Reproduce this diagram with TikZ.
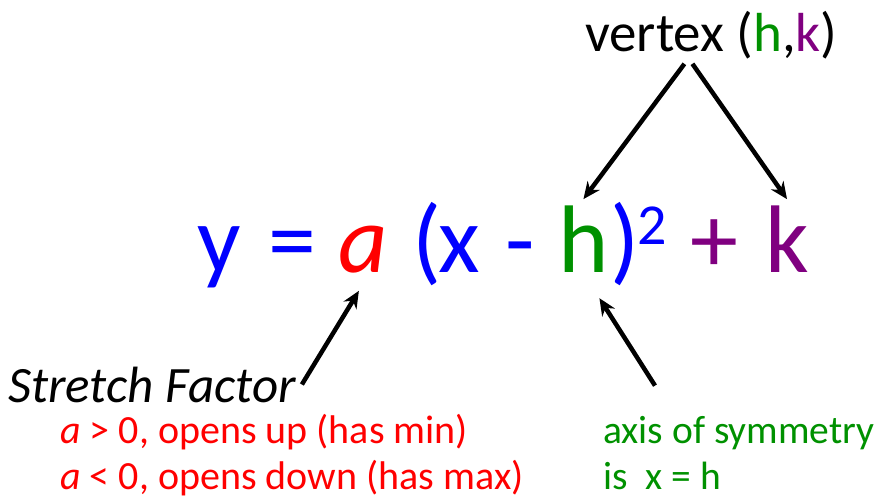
\documentclass[tikz,border=0pt]{standalone}
\usepackage{fontspec}
\setmainfont{Carlito}
\usetikzlibrary{arrows.meta, positioning}
\definecolor{eqblue}{RGB}{0,0,255}
\definecolor{eqred}{RGB}{255,0,0}
\definecolor{eqgreen}{RGB}{0,145,0}
\definecolor{eqpurple}{RGB}{128,0,128}

\begin{document}
\begin{tikzpicture}[x=1pt,y=-1pt,
    tok/.style={inner sep=0pt,anchor=base west,font=\fontsize{96}{96}\selectfont},
    note/.style={inner sep=0pt,anchor=base west,font=\fontsize{40}{46}\selectfont},
    arrow/.style={-{Stealth[length=17pt,width=15pt]},line width=4.5pt},
  ]
  \useasboundingbox (0,0) rectangle (878,500);

  % equation
  \node[tok,eqblue] (y) at (197,272) {y};
  \node[tok,eqblue] (eq) at (268,272) {=};
  \node[tok,eqred] (a) at (338,272) {\itshape a};
  \node[tok,eqblue] (lp) at (412,272) {(};
  \node[tok,eqblue] (x) at (438,272) {x};
  \node[tok,eqblue] (minus) at (505,272) {-};
  \node[tok,eqgreen] (h) at (558,272) {h};
  \node[tok,eqblue] (rp) at (610,272) {)};
  \node[inner sep=0pt,anchor=base west,font=\fontsize{58}{58}\selectfont,eqblue] (sq) at (637,244) {2};
  \node[tok,eqpurple] (plus) at (690,272) {+};
  \node[tok,eqpurple] (k) at (765,272) {k};

  % vertex
  \node[inner sep=0pt,anchor=base west,font=\fontsize{55}{55}\selectfont] (vtx) at (585,52)
    {vertex (\textcolor{eqgreen}{h},\textcolor{eqpurple}{k})};
  \draw[arrow] ([xshift=-27pt,yshift=-4pt]vtx.south) -- ([yshift=6pt]h.north);
  \draw[arrow] ([xshift=-19pt,yshift=-4pt]vtx.south) -- ([yshift=6pt]k.north);

  % stretch factor
  \node[inner sep=0pt,anchor=base west,font=\fontsize{51}{51}\selectfont\itshape] (sf) at (8,402) {Stretch Factor};
  \node[note,eqred] (amin) at (60,443) {\itshape a\upshape{} > 0, opens up (has min)};
  \node[note,eqred] (amax) at (60,489) {\itshape a\upshape{} < 0, opens down (has max)};
  \draw[arrow] ([xshift=6pt]sf.east) -- ([xshift=-4pt,yshift=-18pt]a.south);

  % axis of symmetry
  \node[note,eqgreen,font=\fontsize{39.5}{46}\selectfont] (ax1) at (603,443) {axis of symmetry};
  \node[note,eqgreen,font=\fontsize{39.5}{46}\selectfont] (ax2) at (603,489) {is\ \ x = h};
  \draw[arrow] ([xshift=52pt,yshift=30pt]ax1.north west) -- ([xshift=16pt,yshift=-26pt]h.south);
\end{tikzpicture}
\end{document}
